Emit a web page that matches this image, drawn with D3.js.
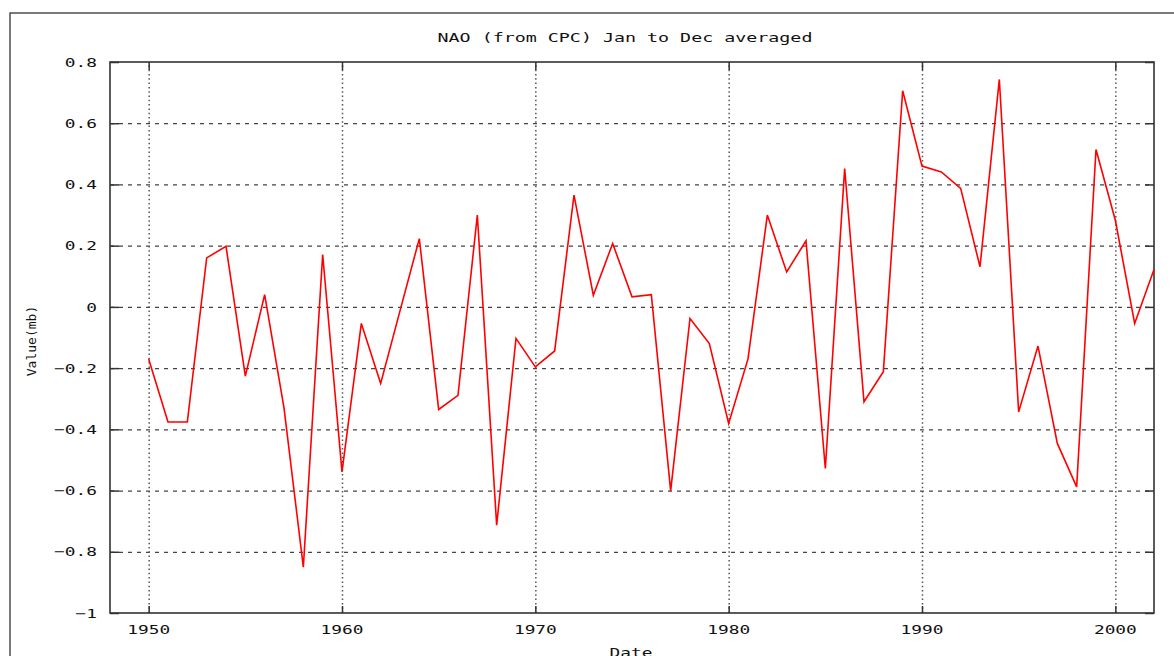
<!DOCTYPE html>
<html>
<head>
<meta charset="utf-8">
<script src="https://cdn.jsdelivr.net/npm/d3@7"></script>
<style>
  html, body { margin: 0; padding: 0; background: #fff; }
  svg { display: block; }
  text { font-family: "DejaVu Sans Mono", "Liberation Mono", monospace; fill: #111; }
</style>
</head>
<body>
<svg id="chart" width="1174" height="656"></svg>
<script>
// ---- data ----
const years = [1950,1951,1952,1953,1954,1955,1956,1957,1958,1959,
               1960,1961,1962,1963,1964,1965,1966,1967,1968,1969,
               1970,1971,1972,1973,1974,1975,1976,1977,1978,1979,
               1980,1981,1982,1983,1984,1985,1986,1987,1988,1989,
               1990,1991,1992,1993,1994,1995,1996,1997,1998,1999,
               2000,2001,2002];
const naoValues = [-0.17,-0.376,-0.376,0.16,0.198,-0.226,0.04,-0.33,-0.85,0.171,
                   -0.539,-0.054,-0.25,-0.013,0.223,-0.335,-0.289,0.30,-0.713,-0.103,
                   -0.196,-0.144,0.365,0.038,0.207,0.033,0.04,-0.601,-0.038,-0.12,
                   -0.381,-0.17,0.30,0.114,0.216,-0.528,0.452,-0.31,-0.212,0.706,
                   0.46,0.441,0.387,0.131,0.743,-0.343,-0.128,-0.446,-0.588,0.514,
                   0.283,-0.054,0.122];
const xTickValues = [1950,1960,1970,1980,1990,2000];
const xTickLabels = ["1950","1960","1970","1980","1990","2000"];
const yTickValues = [0.8,0.6,0.4,0.2,0,-0.2,-0.4,-0.6,-0.8,-1];
const yTickLabels = ["0.8","0.6","0.4","0.2","0","\u22120.2","\u22120.4","\u22120.6","\u22120.8","\u22121"];
const titleText = "NAO (from CPC) Jan to Dec averaged";
const xLabel = "Date";
const yLabel = "Value(mb)";

// ---- layout ----
const svg = d3.select("#chart");
const pLeft = 110, pTop = 62, pRight = 1154, pBottom = 613;
const x = d3.scaleLinear().domain([1948, 2002]).range([pLeft, pRight]);
const y = d3.scaleLinear().domain([-1, 0.8]).range([pBottom, pTop]);
const axisColor = "#333";
const SX = 1.37;   // horizontal stretch of the wide pixel-like font

// outer frame
svg.append("rect").attr("x", 10).attr("y", 13).attr("width", 1300).attr("height", 800)
  .attr("fill", "none").attr("stroke", axisColor).attr("stroke-width", 1.3);

// grid: horizontal dashed
const gY = svg.append("g").attr("transform", `translate(${pLeft},0)`)
  .call(d3.axisLeft(y).tickValues(yTickValues.filter(v => v > -1 && v < 0.8))
    .tickSize(-(pRight - pLeft)).tickFormat(""));
gY.select(".domain").remove();
gY.selectAll("line").attr("stroke", "#444").attr("stroke-width", 1.2).attr("stroke-dasharray", "4,5");

// grid: vertical dotted
const gX = svg.append("g").attr("transform", `translate(0,${pBottom})`)
  .call(d3.axisBottom(x).tickValues(xTickValues).tickSize(-(pBottom - pTop)).tickFormat(""));
gX.select(".domain").remove();
gX.selectAll("line").attr("stroke", "#555").attr("stroke-width", 1.5).attr("stroke-dasharray", "1.5,2.8");

// inward tick marks on all four sides
function styleTicks(g) {
  g.select(".domain").remove();
  g.selectAll("line").attr("stroke", axisColor).attr("stroke-width", 1.5);
  g.selectAll("text").remove();
}
svg.append("g").attr("transform", `translate(${pLeft},0)`)
  .call(d3.axisLeft(y).tickValues(yTickValues).tickSize(-9)).call(styleTicks);
svg.append("g").attr("transform", `translate(${pRight},0)`)
  .call(d3.axisRight(y).tickValues(yTickValues).tickSize(-9)).call(styleTicks);
svg.append("g").attr("transform", `translate(0,${pBottom})`)
  .call(d3.axisBottom(x).tickValues(xTickValues).tickSize(-7)).call(styleTicks);
svg.append("g").attr("transform", `translate(0,${pTop})`)
  .call(d3.axisTop(x).tickValues(xTickValues).tickSize(-8)).call(styleTicks);

// plot frame
svg.append("rect").attr("x", pLeft).attr("y", pTop).attr("width", pRight - pLeft).attr("height", pBottom - pTop)
  .attr("fill", "none").attr("stroke", axisColor).attr("stroke-width", 1.6);

// tick labels
svg.append("g").selectAll("text").data(yTickValues).join("text")
  .attr("transform", d => `translate(${pLeft - 13},${y(d)}) scale(${SX},1)`).attr("dy", "0.36em")
  .attr("text-anchor", "end").attr("font-size", 13)
  .text((d, i) => yTickLabels[i]);
svg.append("g").selectAll("text").data(xTickValues).join("text")
  .attr("transform", d => `translate(${x(d)},633.5) scale(${SX},1)`)
  .attr("text-anchor", "middle").attr("font-size", 13)
  .text((d, i) => xTickLabels[i]);

// title and axis labels
svg.append("text").attr("transform", `translate(625,41.5) scale(1.41,1)`).attr("text-anchor", "middle")
  .attr("font-size", 13).text(titleText);
svg.append("text").attr("transform", `translate(631,657) scale(${SX},1)`).attr("text-anchor", "middle")
  .attr("font-size", 13).text(xLabel);
svg.append("text").attr("transform", "translate(36,341) rotate(-90)").attr("text-anchor", "middle")
  .attr("font-size", 13).text(yLabel);

// data line
const line = d3.line().x((d, i) => x(years[i])).y(d => y(d));
svg.append("path").datum(naoValues).attr("d", line)
  .attr("fill", "none").attr("stroke", "#ff0000").attr("stroke-width", 1.6)
  .attr("stroke-linejoin", "miter");
</script>
</body>
</html>
